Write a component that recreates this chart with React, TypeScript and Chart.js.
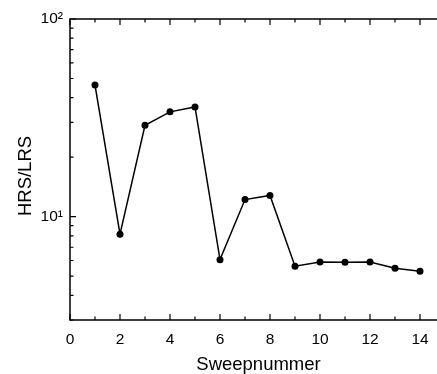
import React, { useEffect, useRef } from "react";
import { Chart, registerables } from "chart.js";

Chart.register(...registerables);

const sweeps = [1, 2, 3, 4, 5, 6, 7, 8, 9, 10, 11, 12, 13, 14];
const ratio = [46.3, 8.15, 29.0, 33.9, 35.9, 6.06, 12.2, 12.8, 5.61, 5.9, 5.88, 5.9, 5.48, 5.3];
const yTickValues = [3, 4, 5, 6, 7, 8, 9, 10, 20, 30, 40, 50, 60, 70, 80, 90, 100];
const yTickLabels: Record<number, string> = { 10: "10¹", 100: "10²" };
const xTitle = "Sweepnummer";
const yTitle = "HRS/LRS";

const FONT = "'Liberation Sans', Arial, sans-serif";

const framePlugin = {
  id: "frame",
  afterDatasetsDraw(chart: any) {
    const { ctx, chartArea } = chart;
    const { left, right, top, bottom } = chartArea;
    const xs = chart.scales.x;
    const ys = chart.scales.y;
    ctx.save();
    ctx.strokeStyle = "#000";
    ctx.lineWidth = 1.5;
    ctx.beginPath();
    ctx.rect(left, top, right - left, bottom - top);
    ctx.stroke();
    ctx.lineWidth = 1.2;
    ctx.beginPath();
    xs.ticks.forEach((t: any) => {
      const px = xs.getPixelForValue(t.value);
      const len = t.value % 2 === 0 ? 6 : 3.5;
      ctx.moveTo(px, bottom);
      ctx.lineTo(px, bottom - len);
      ctx.moveTo(px, top);
      ctx.lineTo(px, top + len);
    });
    ys.ticks.forEach((t: any) => {
      const py = ys.getPixelForValue(t.value);
      const len = yTickLabels[t.value] ? 6 : 3.5;
      ctx.moveTo(left, py);
      ctx.lineTo(left + len, py);
      ctx.moveTo(right, py);
      ctx.lineTo(right - len, py);
    });
    ctx.stroke();

    // axis titles
    ctx.fillStyle = "#000";
    ctx.font = `18.5px ${FONT}`;
    ctx.textAlign = "center";
    ctx.textBaseline = "alphabetic";
    ctx.fillText(xTitle, (left + right) / 2 + 1, 370);
    ctx.translate(30.5, 176);
    ctx.rotate(-Math.PI / 2);
    ctx.fillText(yTitle, 0, 0);
    ctx.restore();
  },
};

export default function App() {
  const ref = useRef<HTMLCanvasElement>(null);
  useEffect(() => {
    if (!ref.current) return;
    const chart = new Chart(ref.current, {
      type: "line",
      data: {
        datasets: [
          {
            data: sweeps.map((s, i) => ({ x: s, y: ratio[i] })),
            borderColor: "#000",
            backgroundColor: "#000",
            borderWidth: 1.5,
            pointRadius: 3.5,
            pointBackgroundColor: "#000",
            pointBorderWidth: 0,
            tension: 0,
          },
        ],
      },
      options: {
        animation: false,
        responsive: false,
        maintainAspectRatio: false,
        layout: { padding: { top: 19, right: 25, left: 0, bottom: 0 } },
        plugins: { legend: { display: false }, tooltip: { enabled: false } },
        scales: {
          x: {
            type: "linear",
            min: 0,
            max: 15,
            grid: { display: false, drawTicks: false },
            border: { display: false },
            afterFit: (s: any) => {
              s.height = 54;
            },
            ticks: {
              stepSize: 1,
              autoSkip: false,
              maxRotation: 0,
              padding: 10,
              color: "#000",
              font: { family: FONT, size: 15.5 },
              callback: (v: any) => (Number(v) % 2 === 0 ? String(v) : ""),
            },
          },
          y: {
            type: "logarithmic",
            min: 3,
            max: 100,
            grid: { display: false, drawTicks: false },
            border: { display: false },
            afterFit: (s: any) => {
              s.width = 70;
            },
            afterBuildTicks: (s: any) => {
              s.ticks = yTickValues.map((v) => ({ value: v, major: !!yTickLabels[v] }));
            },
            ticks: {
              autoSkip: false,
              padding: 7,
              color: "#000",
              font: { family: FONT, size: 15.5 },
              callback: (v: any) => yTickLabels[Number(v)] || "",
            },
          },
        },
      },
      plugins: [framePlugin],
    } as any);
    return () => chart.destroy();
  }, []);
  return (
    <div style={{ position: "fixed", left: 0, top: 0, width: 470, height: 374, background: "#fff" }}>
      <canvas ref={ref} width={470} height={374} style={{ width: 470, height: 374 }} />
    </div>
  );
}
